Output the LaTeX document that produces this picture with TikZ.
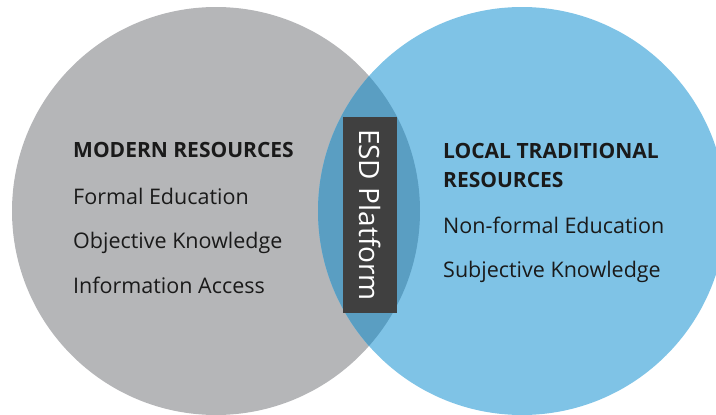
\documentclass[tikz,border=0pt]{standalone}
\usepackage{fontspec}
\setmainfont{Open Sans}
\usetikzlibrary{positioning}
\definecolor{modgray}{RGB}{181,182,184}
\definecolor{locblue}{RGB}{127,195,230}
\definecolor{lensblue}{RGB}{90,158,194}
\definecolor{esddark}{RGB}{64,64,64}
\definecolor{textdark}{RGB}{26,26,26}
\tikzstyle{setcircle} = [circle, minimum size=408pt, inner sep=0pt, outer sep=0pt]
\tikzstyle{heading} = [anchor=base west, inner sep=0pt, align=left, text=textdark, font=\fontsize{21}{29}\selectfont\bfseries]
\tikzstyle{item} = [anchor=base west, inner sep=0pt, text=textdark, font=\fontsize{21.5}{25}\selectfont]
\tikzstyle{platform} = [rectangle, minimum width=196pt, minimum height=54pt, text centered, fill=esddark, text=white, font=\fontsize{28}{32}\selectfont]

\begin{document}
\begin{tikzpicture}[x=1pt,y=-1pt]
\useasboundingbox (0,0) rectangle (716,415);


% Sets

	\node (modern) [setcircle, fill=modgray] at (216,211) {};

	\node (local) [setcircle, fill=locblue] at (522,211) {};


% Overlap

	\begin{scope}
	\clip (modern.center) circle (204pt);
	\fill [lensblue] (local.center) circle (204pt);
	\end{scope}


% Platform

	\node (esd) [platform, rotate=-90] at (370,215) {ESD Platform};


% Modern resources

	\node (modernHead) [heading] at (73,157) {MODERN RESOURCES};

	\node (formalEd) [item, below=47pt of modernHead.base west, anchor=base west] {Formal Education};

	\node (objKnow) [item, below=44pt of formalEd.base west, anchor=base west] {Objective Knowledge};

	\node (infoAccess) [item, below=45pt of objKnow.base west, anchor=base west] {Information Access};


% Local traditional resources

	\node (localHead) [heading] at (443,187) {LOCAL TRADITIONAL\\RESOURCES};

	\node (nonformalEd) [item, below=46pt of localHead.base west, anchor=base west] {Non-formal Education};

	\node (subjKnow) [item, below=44pt of nonformalEd.base west, anchor=base west] {Subjective Knowledge};


\end{tikzpicture}
\end{document}
